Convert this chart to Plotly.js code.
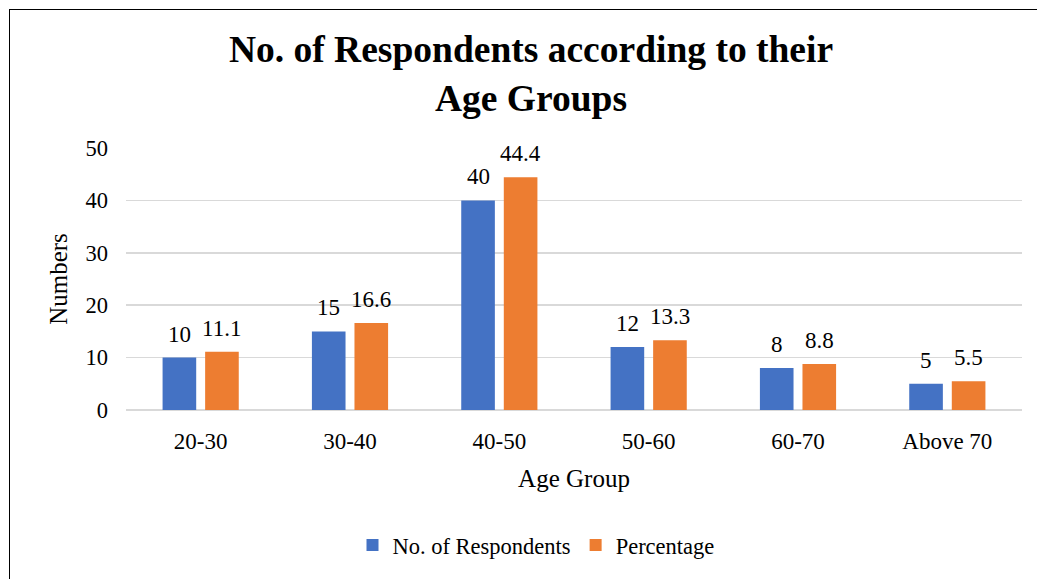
<!DOCTYPE html>
<html>
<head>
<meta charset="utf-8">
<script src="https://cdn.plot.ly/plotly-3.0.1.min.js"></script>
<style>
  html, body { margin: 0; padding: 0; background: #ffffff; }
  #wrap { position: relative; width: 1037px; height: 579px; overflow: hidden; }
  #chart { position: absolute; left: 0; top: 0; width: 1037px; height: 579px; }
  #frame { position: absolute; left: 9px; top: 9px; width: 1040px; height: 600px;
           border-left: 1.5px solid #000; border-top: 1.5px solid #000; pointer-events: none; }
</style>
</head>
<body>
<div id="wrap">
  <div id="chart"></div>
  <div id="frame"></div>
</div>
<script>
// Respondents by age group
const ageGroups = ['20-30', '30-40', '40-50', '50-60', '60-70', 'Above 70'];
const respondents = [10, 15, 40, 12, 8, 5];
const percentage = [11.1, 16.6, 44.4, 13.3, 8.8, 5.5];
const yTicks = [0, 10, 20, 30, 40, 50];

const serif = 'Liberation Serif, Times New Roman, serif';
const blue = '#4472C4';
const orange = '#ED7D31';

const traces = [
  { type: 'bar', name: 'No. of Respondents', x: ageGroups, y: respondents,
    marker: { color: blue }, hoverinfo: 'skip' },
  { type: 'bar', name: 'Percentage', x: ageGroups, y: percentage,
    marker: { color: orange }, hoverinfo: 'skip' }
];

// value labels above each bar, shifted onto its slot in the group
const labelShift = 21.3;
const labelFont = { family: serif, size: 23, color: '#000' };
const annotations = [];
ageGroups.forEach((g, i) => {
  annotations.push({ x: g, y: respondents[i], xref: 'x', yref: 'y', text: String(respondents[i]),
    showarrow: false, yanchor: 'bottom', xshift: -labelShift, yshift: 9, font: labelFont });
  annotations.push({ x: g, y: percentage[i], xref: 'x', yref: 'y', text: String(percentage[i]),
    showarrow: false, yanchor: 'bottom', xshift: labelShift, yshift: 9, font: labelFont });
});

const layout = {
  width: 1037, height: 579,
  margin: { l: 126, r: 15, t: 148, b: 164, pad: 0 },
  paper_bgcolor: '#ffffff', plot_bgcolor: '#ffffff',
  font: { family: serif, size: 23, color: '#000' },
  title: {
    text: '<b>No. of Respondents according to their<br>Age Groups</b>',
    font: { family: serif, size: 37.5, color: '#000' },
    x: 531 / 1037, xref: 'container', xanchor: 'center',
    y: 1 - 62 / 579, yref: 'container', yanchor: 'top'
  },
  barmode: 'group', bargap: 0.43, bargroupgap: 0.21,
  showlegend: true,
  legend: {
    orientation: 'h', x: (536 - 126) / 896, xanchor: 'center',
    y: (415 - 553) / 267, yanchor: 'middle',
    font: { family: serif, size: 22.5, color: '#000' },
    traceorder: 'normal'
  },
  xaxis: {
    type: 'category', automargin: false,
    showgrid: false, showline: false, zeroline: false, ticks: '',
    ticklabelstandoff: 15,
    tickfont: { family: serif, size: 23, color: '#000' },
    title: { text: 'Age Group', font: { family: serif, size: 25, color: '#000' }, standoff: 16 }
  },
  yaxis: {
    automargin: false, range: [0, 50], tickvals: yTicks, ticktext: yTicks.map(String),
    showgrid: true, gridcolor: '#d9d9d9', gridwidth: 1.5,
    zeroline: true, zerolinecolor: '#d9d9d9', zerolinewidth: 1.5,
    showline: false, ticks: '', ticklabelstandoff: 17,
    tickfont: { family: serif, size: 22.5, color: '#000' },
    title: { text: 'Numbers', font: { family: serif, size: 25, color: '#000' }, standoff: 10 }
  },
  annotations: annotations
};

Plotly.newPlot('chart', traces, layout, { displayModeBar: false, staticPlot: true });
</script>
</body>
</html>
